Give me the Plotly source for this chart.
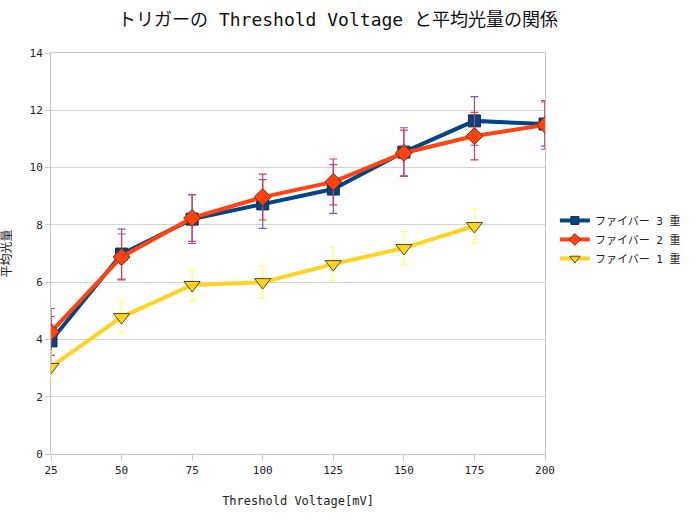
import plotly.graph_objects as go

x_vals = [25, 50, 75, 100, 125, 150, 175, 200]
x_vals_1 = [25, 50, 75, 100, 125, 150, 175]

fiber3 = [3.95, 6.98, 8.2, 8.73, 9.25, 10.54, 11.63, 11.52]
fiber3_err = [0.85, 0.87, 0.85, 0.85, 0.85, 0.85, 0.85, 0.77]

fiber2 = [4.26, 6.88, 8.24, 8.97, 9.5, 10.51, 11.1, 11.49]
fiber2_err = [0.82, 0.8, 0.82, 0.8, 0.8, 0.8, 0.83, 0.85]

fiber1 = [3.04, 4.78, 5.9, 6.0, 6.63, 7.19, 7.96]
fiber1_err = [0.55, 0.56, 0.56, 0.56, 0.58, 0.57, 0.58]

names = ["ファイバー 3 重", "ファイバー 2 重", "ファイバー 1 重"]
y_ticks = [0, 2, 4, 6, 8, 10, 12, 14]

FONT = "DejaVu Sans Mono, Noto Sans CJK JP, sans-serif"

series = [
    dict(x=x_vals, y=fiber3, err=fiber3_err, name=names[0], color="#004586",
         symbol="square", size=12, outline="#1c2a40", errc="#6a5acd", lsize=8),
    dict(x=x_vals, y=fiber2, err=fiber2_err, name=names[1], color="#ff420e",
         symbol="diamond", size=13, outline="#8a2a10", errc="#dd3a5a", lsize=9),
    dict(x=x_vals_1, y=fiber1, err=fiber1_err, name=names[2], color="#ffd320",
         symbol="triangle-down", size=14, outline="#5a4a10", errc="#ffff70", lsize=9),
]

fig = go.Figure()
for s in series:
    fig.add_trace(go.Scatter(
        x=s["x"], y=s["y"], name=s["name"], mode="lines+markers",
        showlegend=False,
        line=dict(color=s["color"], width=4),
        marker=dict(symbol=s["symbol"], size=s["size"], color=s["color"],
                    line=dict(color=s["outline"], width=1)),
        error_y=dict(type="data", array=s["err"], visible=True,
                     color=s["errc"], thickness=1.2, width=4),
    ))
# legend entries with smaller symbols, as in the reference
for s in series:
    fig.add_trace(go.Scatter(
        x=[None], y=[None], name=s["name"], mode="lines+markers",
        line=dict(color=s["color"], width=4),
        marker=dict(symbol=s["symbol"], size=s["lsize"], color=s["color"],
                    line=dict(color=s["outline"], width=1)),
    ))

fig.update_layout(
    width=697, height=527,
    margin=dict(l=51, r=152, t=53, b=73, autoexpand=False),
    paper_bgcolor="white", plot_bgcolor="white",
    font=dict(family=FONT, size=11, color="#222222"),
    title=dict(text="トリガーの Threshold Voltage と平均光量の関係",
               x=0.485, xref="container", xanchor="center",
               y=0.962, yanchor="middle",
               font=dict(family=FONT, size=18, color="#111111")),
    legend=dict(x=1.02, xanchor="left", y=0.535, yanchor="middle",
                font=dict(family=FONT, size=11, color="#222222"),
                itemwidth=30, tracegroupgap=0, bgcolor="rgba(0,0,0,0)"),
    showlegend=True,
)

fig.update_xaxes(
    range=[25, 200], tickvals=x_vals, ticktext=[str(v) for v in x_vals],
    showgrid=False, zeroline=False, automargin=False,
    showline=True, linecolor="#c8c8c8", linewidth=1, mirror=True,
    ticks="outside", ticklen=6, tickcolor="#c8c8c8",
    tickfont=dict(family=FONT, size=11, color="#222222"),
    title=dict(text="Threshold Voltage[mV]", standoff=20,
               font=dict(family=FONT, size=12, color="#222222")),
)
fig.update_yaxes(
    range=[0, 14], tickvals=y_ticks, ticktext=[str(v) for v in y_ticks],
    showgrid=True, gridcolor="#d4d4d4", gridwidth=1, zeroline=False,
    automargin=False,
    showline=True, linecolor="#c8c8c8", linewidth=1, mirror=True,
    ticks="outside", ticklen=5, tickcolor="#c8c8c8",
    tickfont=dict(family=FONT, size=11, color="#222222"),
    title=dict(text="平均光量", standoff=18,
               font=dict(family=FONT, size=12, color="#222222")),
)

fig.write_html("out.html")
